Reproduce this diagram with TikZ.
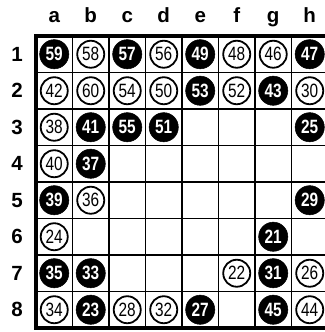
\documentclass[tikz,border=0pt]{standalone}
\usepackage{fontspec}
\setmainfont{Liberation Sans}
\newfontfamily\discfont[FakeStretch=0.8]{Liberation Sans}
\begin{document}
\begin{tikzpicture}[
    bdisc/.style={circle, fill=black, draw=black, minimum size=0.8cm, inner sep=0pt,
      text=white, font=\discfont\bfseries\fontsize{15}{15}\selectfont},
    wdisc/.style={circle, draw=black, line width=1.4pt, fill=white, minimum size=0.74cm,
      inner sep=0pt, font=\discfont\fontsize{15}{15}\selectfont},
    lbl/.style={font=\bfseries\fontsize{16}{16}\selectfont}]
        \useasboundingbox (-0.986,0.986) rectangle (7.918,-8.110);
        \foreach \x in {1,...,7} {
          \draw[line width=0.9pt] (\x,0) -- (\x,-8);
          \draw[line width=0.9pt] (0,-\x) -- (8,-\x);
          }
          \draw[line width=2.6pt] (0,0) rectangle (8,-8);
          \foreach[count=\i] \c in {a,b,c,d,e,f,g,h} {
            \node[lbl, anchor=base] (col\c) at (\i-0.5,0.356) {\c};
            }
            \foreach \r in {1,...,8} {
              \node[lbl] (row\r) at (-0.52,-\r+0.5) {\r};
              }
              % black discs
              \foreach \x/\r/\n in {1/1/59,3/1/57,5/1/49,8/1/47,5/2/53,7/2/43,2/3/41,3/3/55,
                4/3/51,8/3/25,2/4/37,1/5/39,8/5/29,7/6/21,1/7/35,2/7/33,7/7/31,2/8/23,5/8/27,7/8/45} {
                \node[bdisc] (m\n) at (\x-0.5,-\r+0.5) {\n};
                }
                % white discs
                \foreach \x/\r/\n in {2/1/58,4/1/56,6/1/48,7/1/46,1/2/42,2/2/60,3/2/54,4/2/50,
                  6/2/52,8/2/30,1/3/38,1/4/40,2/5/36,1/6/24,6/7/22,8/7/26,1/8/34,3/8/28,4/8/32,8/8/44} {
                  \node[wdisc] (m\n) at (\x-0.5,-\r+0.5) {\n};
                  }
\end{tikzpicture}
\end{document}
